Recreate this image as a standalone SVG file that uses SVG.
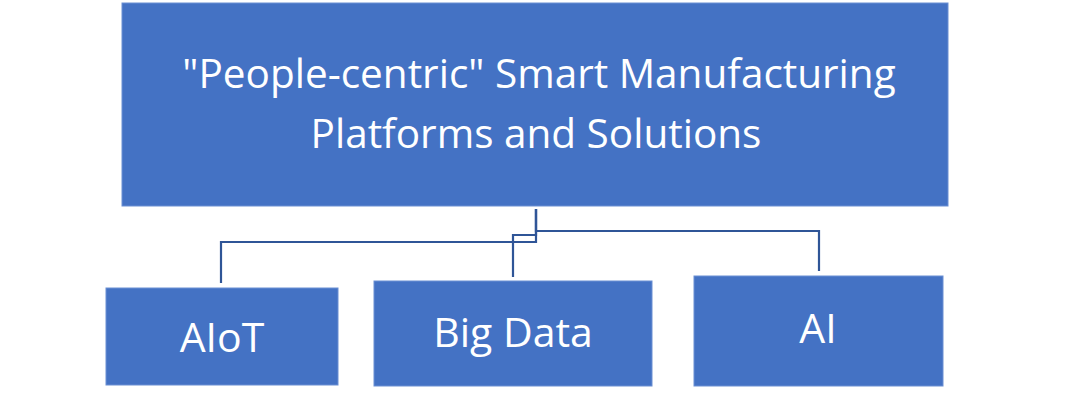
<svg xmlns="http://www.w3.org/2000/svg" width="1080" height="410" viewBox="0 0 1080 410">
<style>
.box{fill:#4472C4;stroke:#6A8FD3;stroke-width:1}
.lbl{fill:#FFFFFF;font-family:"Open Sans","Noto Sans","Liberation Sans",sans-serif;font-size:40.5px;text-anchor:middle}
.sm{font-size:41px}
.conn{fill:none;stroke:#2F5597;stroke-width:2.2}
</style>
<rect width="1080" height="410" fill="#FFFFFF"/>
<g id="connectors">
<path class="conn" d="M536,209 V242 H221 V283"/>
<path class="conn" d="M536,209 V235 H513 V277"/>
<path class="conn" d="M536,209 V231 H819 V271"/>
</g>
<g id="root">
<rect class="box" x="122" y="3" width="826" height="203"/>
<text class="lbl" x="539" y="88">"People-centric" Smart Manufacturing</text>
<text class="lbl" x="536" y="148">Platforms and Solutions</text>
</g>
<g id="aiot">
<rect class="box" x="106" y="288" width="232" height="97"/>
<text class="lbl sm" x="222" y="352">AIoT</text>
</g>
<g id="bigdata">
<rect class="box" x="374" y="281" width="278" height="105"/>
<text class="lbl sm" x="513" y="347">Big Data</text>
</g>
<g id="ai">
<rect class="box" x="694" y="276" width="249" height="110"/>
<text class="lbl sm" x="818" y="343">AI</text>
</g>
</svg>
